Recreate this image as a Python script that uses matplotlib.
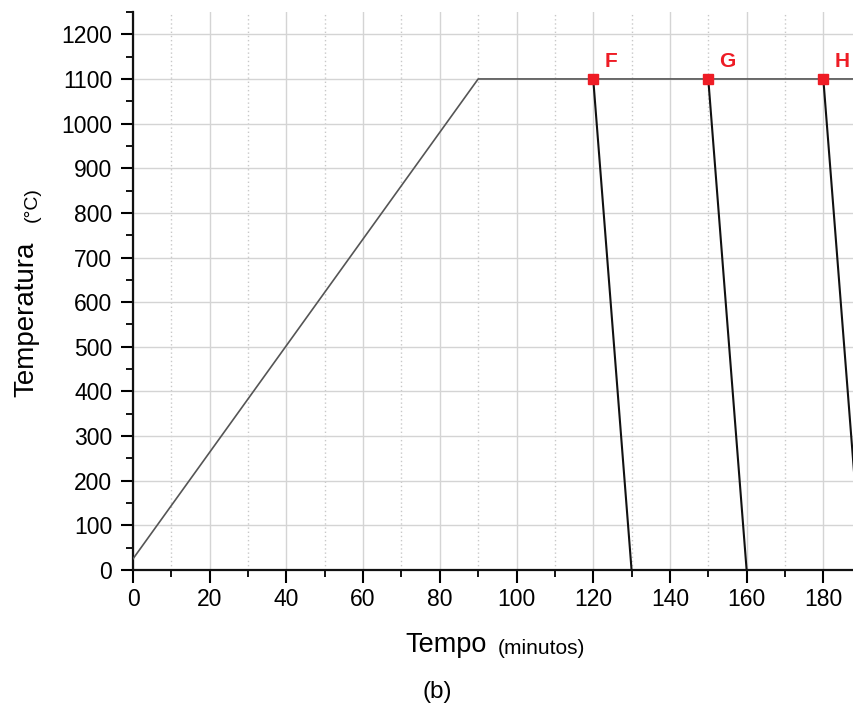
import matplotlib
matplotlib.use("Agg")
import matplotlib.pyplot as plt
from matplotlib.ticker import MultipleLocator

plt.rcParams['font.family'] = ['Liberation Sans', 'DejaVu Sans']

# Heating / holding profile
heat_t = [0, 90, 190]
heat_T = [25, 1100, 1100]

# Cooling curves from points F, G, H
labels = ['F', 'G', 'H']
start_t = [120, 150, 180]
start_T = [1100, 1100, 1100]
end_t = [130, 160, 190]
end_T = [0, 0, 0]

fig = plt.figure(figsize=(8.54, 7.11), dpi=100)
ax = fig.add_axes([133/854, (711-570)/711, 1 - 133/854, (570-12)/711])

ax.set_xlim(0, 188)
ax.set_ylim(0, 1250)

ax.xaxis.set_major_locator(MultipleLocator(20))
ax.xaxis.set_minor_locator(MultipleLocator(10))
ax.yaxis.set_major_locator(MultipleLocator(100))
ax.yaxis.set_minor_locator(MultipleLocator(50))

ax.grid(which='major', color='#d4d4d4', linewidth=1.0, linestyle='-')
ax.grid(which='minor', axis='x', color='#c8c8c8', linewidth=1.0, linestyle=(0, (1, 2)))
ax.set_axisbelow(True)

for s in ['top', 'right']:
    ax.spines[s].set_visible(False)
for s in ['left', 'bottom']:
    ax.spines[s].set_linewidth(1.6)
    ax.spines[s].set_color('#111111')

ax.tick_params(which='major', direction='out', length=9, width=1.5, labelsize=16.5)
ax.tick_params(axis='y', which='major', pad=6)
ax.tick_params(axis='x', which='major', pad=4)
ax.tick_params(which='minor', direction='out', length=5, width=1.3)

ax.plot(heat_t, heat_T, color='#555555', linewidth=1.2, zorder=3)
for t0, T0, t1, T1 in zip(start_t, start_T, end_t, end_T):
    ax.plot([t0, t1], [T0, T1], color='#111111', linewidth=1.5, zorder=3)
ax.plot(start_t, start_T, linestyle='none', marker='s', markersize=7,
        color='#ee1c25', zorder=4)
for lab, t0, T0 in zip(labels, start_t, start_T):
    ax.annotate(lab, (t0, T0), xytext=(8, 6), textcoords='offset points',
                color='#ee1c25', fontsize=15, fontweight='bold', ha='left', va='bottom')

fig.text(26/854, 1 - 319/711, 'Temperatura', rotation=90, fontsize=20,
         ha='center', va='center')
fig.text(32/854, 1 - 205/711, '(°C)', rotation=90, fontsize=14,
         ha='center', va='center')
fig.text(446/854, 1 - 645/711, 'Tempo', fontsize=19.5, ha='center', va='center')
fig.text(541/854, 1 - 648/711, '(minutos)', fontsize=15, ha='center', va='center')
fig.text(437/854, 1 - 692/711, '(b)', fontsize=17.5, ha='center', va='center')

fig.savefig('out.png', dpi=100)
